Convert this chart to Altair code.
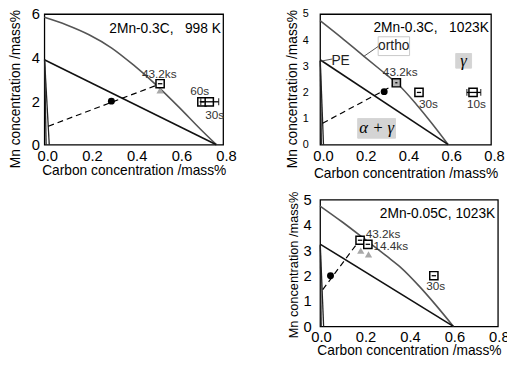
import altair as alt
import pandas as pd

FONT = "Liberation Sans"
SERIF = "Liberation Serif"
X_TITLE = "Carbon concentration /mass%"
Y_TITLE = "Mn concentration /mass%"
X_TICKS = [0.0, 0.2, 0.4, 0.6, 0.8]
NB = "\u00a0"

# ---------------- Panel 1 : 2Mn-0.3C, 998 K ----------------
p1_title = "2Mn-0.3C," + NB * 3 + "998 K"
p1_ortho_c = [0.0, 0.1, 0.2, 0.3, 0.4, 0.5, 0.6, 0.7, 0.77]
p1_ortho_mn = [5.85, 5.5, 5.05, 4.45, 3.65, 2.75, 1.75, 0.7, 0.0]
p1_pe_c = [0.0, 0.77]
p1_pe_mn = [3.9, 0.0]
p1_alpha_c = [0.001, 0.008, 0.001, 0.022]
p1_alpha_mn = [3.9, 0.0, 3.9, 0.0]
p1_alpha_g = [0, 0, 1, 1]
p1_dash_c = [0.018, 0.5]
p1_dash_mn = [0.85, 2.72]
p1_dot_c = [0.3]
p1_dot_mn = [2.0]
p1_sq_c = [0.518, 0.705, 0.738]
p1_sq_mn = [2.8, 1.97, 1.97]
p1_sq_fill = ["white", "white", "white"]
p1_bar_c1 = [0.508, 0.695, 0.700]
p1_bar_c2 = [0.528, 0.715, 0.780]
p1_bar_mn = [2.8, 1.97, 1.97]
p1_cap_c = [0.700, 0.780]
p1_cap_mn = [1.97, 1.97]
p1_tri_c = [0.518]
p1_tri_mn = [2.5]
p1_lab_text = ["43.2ks", "60s", "30s"]
p1_lab_c = [0.514, 0.695, 0.762]
p1_lab_mn = [3.26, 2.48, 1.35]

# ---------------- Panel 2 : 2Mn-0.3C, 1023K ----------------
p2_title = "2Mn-0.3C," + NB * 3 + "1023K"
p2_ortho_c = [0.0, 0.1, 0.2, 0.3, 0.36, 0.45, 0.52, 0.6]
p2_ortho_mn = [4.75, 4.1, 3.42, 2.75, 2.35, 1.55, 0.85, 0.0]
p2_pe_c = [0.0, 0.6]
p2_pe_mn = [3.25, 0.0]
p2_alpha_c = [0.001, 0.006, 0.001, 0.016]
p2_alpha_mn = [3.2, 0.0, 3.2, 0.0]
p2_alpha_g = [0, 0, 1, 1]
p2_dash_c = [0.012, 0.35]
p2_dash_mn = [0.82, 2.3]
p2_dot_c = [0.3]
p2_dot_mn = [2.03]
p2_sq_c = [0.357, 0.463, 0.716]
p2_sq_mn = [2.37, 2.0, 2.0]
p2_sq_fill = ["#b4b4b4", "white", "white"]
p2_bar_c1 = [0.352, 0.453, 0.687]
p2_bar_c2 = [0.362, 0.473, 0.752]
p2_bar_mn = [2.37, 2.0, 2.0]
p2_cap_c = [0.687, 0.752]
p2_cap_mn = [2.0, 2.0]
p2_lab_text = ["43.2ks", "30s", "10s"]
p2_lab_c = [0.375, 0.507, 0.732]
p2_lab_mn = [2.78, 1.56, 1.56]
p2_box_c1 = [0.272, 0.058, 0.635, 0.176]
p2_box_c2 = [0.419, 0.134, 0.709, 0.353]
p2_box_mn1 = [3.41, 2.99, 2.93, 0.25]
p2_box_mn2 = [4.13, 3.43, 3.49, 1.0]
p2_box_fill = ["white", "white", "#d4d4d4", "#d4d4d4"]
p2_box_stroke = ["#c8c8c8", "white", "#d4d4d4", "#d4d4d4"]
p2_lead_c1 = [0.203, 0.005]
p2_lead_c2 = [0.272, 0.058]
p2_lead_mn1 = [3.37, 3.2]
p2_lead_mn2 = [3.76, 3.28]
p2_ann_text = ["ortho", "PE"]
p2_ann_c = [0.345, 0.096]
p2_ann_mn = [3.77, 3.2]
p2_greek_text = ["\u03b3", "\u03b1 + \u03b3"]
p2_greek_c = [0.672, 0.265]
p2_greek_mn = [3.2, 0.62]

# ---------------- Panel 3 : 2Mn-0.05C, 1023K ----------------
p3_title = "2Mn-0.05C, 1023K"
p3_ortho_c = [0.0, 0.1, 0.2, 0.3, 0.36, 0.45, 0.52, 0.6]
p3_ortho_mn = [4.75, 4.12, 3.45, 2.77, 2.35, 1.55, 0.85, 0.0]
p3_pe_c = [0.0, 0.6]
p3_pe_mn = [3.25, 0.0]
p3_alpha_c = [0.001, 0.005, 0.001, 0.016]
p3_alpha_mn = [3.2, 0.0, 3.2, 0.0]
p3_alpha_g = [0, 0, 1, 1]
p3_dash_c = [0.012, 0.18]
p3_dash_mn = [1.45, 3.43]
p3_dot_c = [0.047]
p3_dot_mn = [2.0]
p3_sq_c = [0.18, 0.215, 0.512]
p3_sq_mn = [3.4, 3.24, 2.0]
p3_sq_fill = ["white", "white", "white"]
p3_bar_c1 = [0.17, 0.205, 0.502]
p3_bar_c2 = [0.19, 0.225, 0.522]
p3_bar_mn = [3.4, 3.24, 2.0]
p3_tri_c = [0.183, 0.218]
p3_tri_mn = [2.99, 2.84]
p3_lab_text = ["43.2ks", "14.4ks", "30s"]
p3_lab_c = [0.205, 0.24, 0.52]
p3_lab_mn = [3.66, 3.18, 1.59]
p3_lab_align = ["left", "left", "center"]


def make_panel(width, height, ymax, yticks, ylab_size, ylab_pad, ytitle_size,
               ytitle_pad, ytitle_y, xlab_pad, xtitle_pad, xtitle_size, xlab_off, d):
    xs = alt.Scale(domain=[0, 0.8], nice=False, zero=False)
    ys = alt.Scale(domain=[0, ymax], nice=False, zero=False)
    xaxis = alt.Axis(values=X_TICKS, format=".1f", title=X_TITLE, ticks=False,
                     tickSize=0, grid=False, domain=False, labelFlush=False,
                     labelFontSize=15, labelPadding=xlab_pad, labelFont=FONT,
                     labelOffset=xlab_off,
                     labelColor="black", titleFont=FONT, titleFontSize=xtitle_size,
                     titleFontWeight="normal", titlePadding=xtitle_pad,
                     titleColor="black")
    yaxis = alt.Axis(values=yticks, format="d", title=Y_TITLE, ticks=False,
                     tickSize=0, grid=False, domain=False, labelFlush=False,
                     labelFontSize=ylab_size, labelPadding=ylab_pad, labelFont=FONT,
                     labelColor="black", titleFont=FONT, titleFontSize=ytitle_size,
                     titleFontWeight="normal", titlePadding=ytitle_pad,
                     titleColor="black", titleY=ytitle_y)

    def X(f):
        return alt.X(f, type="quantitative", scale=xs, axis=xaxis, title=X_TITLE)

    def Y(f):
        return alt.Y(f, type="quantitative", scale=ys, axis=yaxis, title=Y_TITLE)

    layers = []
    # boxes (background annotations)
    if "box" in d:
        b = d["box"]
        df = pd.DataFrame({"c1": b[0], "c2": b[1], "m1": b[2], "m2": b[3],
                           "fill": b[4], "stroke": b[5]})
        layers.append(alt.Chart(df).mark_rect(strokeWidth=1).encode(
            x=X("c1"), x2="c2", y=Y("m1"), y2="m2",
            fill=alt.Fill("fill:N", scale=None),
            stroke=alt.Stroke("stroke:N", scale=None)))
    # ortho line (gray)
    df = pd.DataFrame({"c": d["ortho"][0], "mn": d["ortho"][1],
                       "o": list(range(len(d["ortho"][0])))})
    layers.append(alt.Chart(df).mark_line(color="#555555", strokeWidth=1.6,
                                          interpolate="monotone").encode(
        x=X("c"), y=Y("mn"), order="o:Q"))
    # PE line
    df = pd.DataFrame({"c": d["pe"][0], "mn": d["pe"][1]})
    layers.append(alt.Chart(df).mark_line(color="#111111", strokeWidth=1.6).encode(
        x=X("c"), y=Y("mn")))
    # alpha side lines
    df = pd.DataFrame({"c": d["alpha"][0], "mn": d["alpha"][1], "g": d["alpha"][2]})
    layers.append(alt.Chart(df).mark_line(color="#222222", strokeWidth=1.3).encode(
        x=X("c"), y=Y("mn"), detail="g:N"))
    # dashed line
    df = pd.DataFrame({"c": d["dash"][0], "mn": d["dash"][1]})
    layers.append(alt.Chart(df).mark_line(color="black", strokeWidth=1.2,
                                          strokeDash=[6, 4]).encode(
        x=X("c"), y=Y("mn")))
    # leader lines
    if "lead" in d:
        l = d["lead"]
        df = pd.DataFrame({"c1": l[0], "c2": l[1], "m1": l[2], "m2": l[3]})
        layers.append(alt.Chart(df).mark_rule(color="#555555", strokeWidth=1).encode(
            x=X("c1"), x2="c2", y=Y("m1"), y2="m2"))
    # dot
    df = pd.DataFrame({"c": d["dot"][0], "mn": d["dot"][1]})
    layers.append(alt.Chart(df).mark_circle(color="black", size=50, opacity=1).encode(
        x=X("c"), y=Y("mn")))
    # triangles
    if "tri" in d:
        df = pd.DataFrame({"c": d["tri"][0], "mn": d["tri"][1]})
        layers.append(alt.Chart(df).mark_point(shape="triangle-up", filled=True,
                                               color="#a8a8a8", size=55, opacity=1).encode(
            x=X("c"), y=Y("mn")))
    # squares
    df = pd.DataFrame({"c": d["sq"][0], "mn": d["sq"][1], "fill": d["sq"][2]})
    layers.append(alt.Chart(df).mark_point(shape="square", filled=True, size=70,
                                           stroke="black", strokeWidth=1.5,
                                           opacity=1).encode(
        x=X("c"), y=Y("mn"), fill=alt.Fill("fill:N", scale=None)))
    # error bars
    df = pd.DataFrame({"c1": d["bar"][0], "c2": d["bar"][1], "mn": d["bar"][2]})
    layers.append(alt.Chart(df).mark_rule(color="black", strokeWidth=1.3).encode(
        x=X("c1"), x2="c2", y=Y("mn")))
    if "cap" in d:
        df = pd.DataFrame({"c": d["cap"][0], "mn": d["cap"][1]})
        layers.append(alt.Chart(df).mark_tick(orient="vertical", color="black",
                                              thickness=1.3, size=7).encode(
            x=X("c"), y=Y("mn")))
    # labels
    lab = d["lab"]
    df = pd.DataFrame({"t": lab[0], "c": lab[1], "mn": lab[2], "a": lab[3]})
    for a in sorted(set(lab[3])):
        layers.append(alt.Chart(df).transform_filter(alt.datum.a == a).mark_text(
            font=FONT, fontSize=12, color="#333333", align=a, baseline="middle").encode(
            x=X("c"), y=Y("mn"), text="t:N"))
    if "ann" in d:
        df = pd.DataFrame({"t": d["ann"][0], "c": d["ann"][1], "mn": d["ann"][2]})
        layers.append(alt.Chart(df).mark_text(
            font=FONT, fontSize=14, color="#222222", align="center",
            baseline="middle").encode(x=X("c"), y=Y("mn"), text="t:N"))
    if "greek" in d:
        df = pd.DataFrame({"t": d["greek"][0], "c": d["greek"][1], "mn": d["greek"][2]})
        layers.append(alt.Chart(df).mark_text(
            font=SERIF, fontSize=17, fontStyle="italic", color="black",
            align="center", baseline="middle").encode(
            x=X("c"), y=Y("mn"), text="t:N"))
    # panel title
    df = pd.DataFrame({"t": [d["title"][0]], "c": [d["title"][1]], "mn": [d["title"][2]]})
    layers.append(alt.Chart(df).mark_text(
        font=FONT, fontSize=14, color="black", align="right",
        baseline="middle").encode(x=X("c"), y=Y("mn"), text="t:N"))
    return alt.layer(*layers).properties(width=width, height=height)


p1 = make_panel(182, 133, 6, [0, 2, 4, 6], 15, 5, 14, 9, 76, 4, 0, 14, 3, {
    "ortho": (p1_ortho_c, p1_ortho_mn),
    "pe": (p1_pe_c, p1_pe_mn),
    "alpha": (p1_alpha_c, p1_alpha_mn, p1_alpha_g),
    "dash": (p1_dash_c, p1_dash_mn),
    "dot": (p1_dot_c, p1_dot_mn),
    "tri": (p1_tri_c, p1_tri_mn),
    "sq": (p1_sq_c, p1_sq_mn, p1_sq_fill),
    "bar": (p1_bar_c1, p1_bar_c2, p1_bar_mn),
    "cap": (p1_cap_c, p1_cap_mn),
    "lab": (p1_lab_text, p1_lab_c, p1_lab_mn, ["center"] * 3),
    "title": (p1_title, 0.79, 5.3),
})

p2 = make_panel(174, 133, 5, [0, 1, 2, 3, 4, 5], 11, 12, 14, 3, 76, 4, 3, 14, 3, {
    "box": (p2_box_c1, p2_box_c2, p2_box_mn1, p2_box_mn2, p2_box_fill, p2_box_stroke),
    "ortho": (p2_ortho_c, p2_ortho_mn),
    "pe": (p2_pe_c, p2_pe_mn),
    "alpha": (p2_alpha_c, p2_alpha_mn, p2_alpha_g),
    "dash": (p2_dash_c, p2_dash_mn),
    "lead": (p2_lead_c1, p2_lead_c2, p2_lead_mn1, p2_lead_mn2),
    "dot": (p2_dot_c, p2_dot_mn),
    "sq": (p2_sq_c, p2_sq_mn, p2_sq_fill),
    "bar": (p2_bar_c1, p2_bar_c2, p2_bar_mn),
    "cap": (p2_cap_c, p2_cap_mn),
    "lab": (p2_lab_text, p2_lab_c, p2_lab_mn, ["center"] * 3),
    "ann": (p2_ann_text, p2_ann_c, p2_ann_mn),
    "greek": (p2_greek_text, p2_greek_c, p2_greek_mn),
    "title": (p2_title, 0.79, 4.47),
})

p3 = make_panel(181, 129, 5, [0, 1, 2, 3, 4, 5], 15, 9, 13, 3, 66, 3, 0, 14, 1, {
    "ortho": (p3_ortho_c, p3_ortho_mn),
    "pe": (p3_pe_c, p3_pe_mn),
    "alpha": (p3_alpha_c, p3_alpha_mn, p3_alpha_g),
    "dash": (p3_dash_c, p3_dash_mn),
    "dot": (p3_dot_c, p3_dot_mn),
    "tri": (p3_tri_c, p3_tri_mn),
    "sq": (p3_sq_c, p3_sq_mn, p3_sq_fill),
    "bar": (p3_bar_c1, p3_bar_c2, p3_bar_mn),
    "lab": (p3_lab_text, p3_lab_c, p3_lab_mn, p3_lab_align),
    "title": (p3_title, 0.788, 4.42),
})

blank = alt.Chart(pd.DataFrame({"a": [0]})).mark_point(opacity=0).encode(
    x=alt.X("a:Q", axis=None), y=alt.Y("a:Q", axis=None)
).properties(width=10, height=10, view=alt.ViewBackground(strokeOpacity=0))

chart = alt.ConcatChart(
    concat=[p1, p2, blank, p3], columns=2, bounds="flush",
    spacing=alt.RowColnumber(row=56, column=98.7),
).properties(
    padding={"top": -5, "left": 0, "right": -3, "bottom": -4}
).configure_view(stroke="black", strokeWidth=1.3)

chart.save("out.html", embed_options={"renderer": "svg", "actions": False})
